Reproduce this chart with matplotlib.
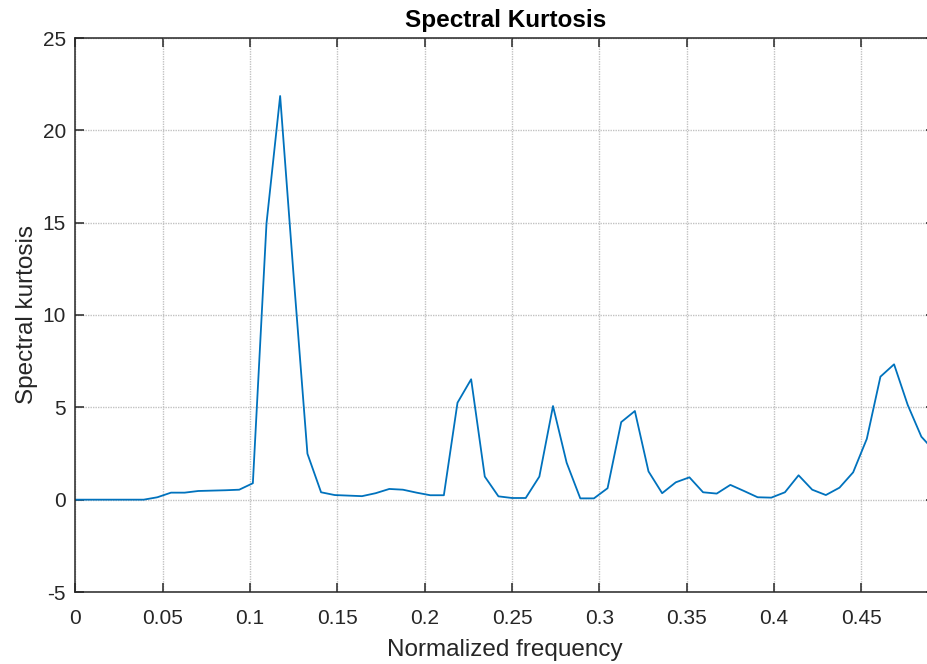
import numpy as np
import matplotlib
matplotlib.use("Agg")
import matplotlib.pyplot as plt

# spectral kurtosis per frequency bin (bin width 1/128)
bin_index = np.arange(64)
kurtosis = [
    0.0, 0.0, 0.0, 0.0, 0.0, 0.0, 0.13, 0.38, 0.38, 0.47,
    0.49, 0.51, 0.54, 0.89, 14.96, 21.86, 12.0, 2.49, 0.4, 0.25,
    0.22, 0.19, 0.35, 0.58, 0.54, 0.38, 0.24, 0.24, 5.25, 6.52,
    1.25, 0.18, 0.09, 0.09, 1.25, 5.07, 2.0, 0.07, 0.07, 0.62,
    4.2, 4.8, 1.53, 0.35, 0.94, 1.21, 0.4, 0.33, 0.8, 0.47,
    0.13, 0.11, 0.4, 1.32, 0.54, 0.25, 0.65, 1.48, 3.29, 6.66,
    7.33, 5.13, 3.41, 2.6,
]
freq = bin_index / 128.0

x_ticks = [0, 0.05, 0.1, 0.15, 0.2, 0.25, 0.3, 0.35, 0.4, 0.45]
x_tick_labels = ["0", "0.05", "0.1", "0.15", "0.2", "0.25", "0.3", "0.35", "0.4", "0.45"]
y_ticks = [-5, 0, 5, 10, 15, 20, 25]

plt.rcParams["font.family"] = ["Liberation Sans", "DejaVu Sans"]
plt.rcParams["axes.unicode_minus"] = False

W, H = 928, 664
fig = plt.figure(figsize=(W / 100, H / 100), dpi=100)
left, right, top, bottom = 75.5, 935.0, 38.0, 592.0
ax = fig.add_axes([left / W, 1 - bottom / H, (right - left) / W, (bottom - top) / H])

ax.plot(freq, kurtosis, color="#0072BD", lw=1.3)

ax.set_xticks(x_ticks)
ax.set_xticklabels(x_tick_labels)
ax.set_yticks(y_ticks)
ax.set_xlim(0, freq[-1])
ax.set_ylim(-5, 25)

ax.grid(True, color="#c2c2c2", linestyle=(0, (1, 0.8)), linewidth=1.0)
ax.set_axisbelow(True)

for s in ax.spines.values():
    s.set_color("#262626")
    s.set_linewidth(1.1)

ax.tick_params(direction="in", length=6.5, width=1.1, color="#262626",
               top=True, right=True, labelsize=15, labelcolor="#262626")
ax.tick_params(axis="x", pad=12)
ax.tick_params(axis="y", pad=7)

ax.set_xlabel("Normalized frequency", fontsize=17.5, color="#262626", labelpad=8)
ax.set_ylabel("Spectral kurtosis", fontsize=17.5, color="#262626", labelpad=3)
ax.set_title("Spectral Kurtosis", fontsize=17.5, fontweight="bold", color="black", pad=8)

fig.savefig("out.png", dpi=100)
